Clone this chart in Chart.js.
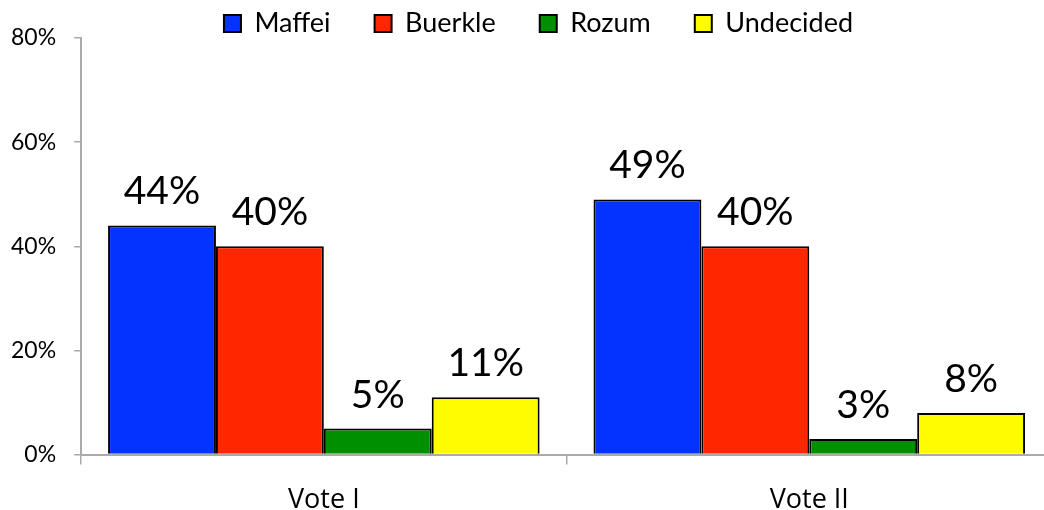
<!DOCTYPE html>
<html>
<head>
<meta charset="utf-8">
<script src="https://cdn.jsdelivr.net/npm/chart.js@4/dist/chart.umd.min.js"></script>
<style>
  html, body { margin: 0; padding: 0; background: #fff; overflow: hidden; }
  #wrap { width: 1056px; height: 510px; }
</style>
</head>
<body>
<div id="wrap"><canvas id="chart" width="1056" height="510"></canvas></div>
<script>
// 데이터
const categories = ['Vote I', 'Vote II'];
const maffei = [44, 49];
const buerkle = [40, 40];
const rozum = [5, 3];
const undecided = [11, 8];
const yTicks = [0, 20, 40, 60, 80];

const FONT = "Lato, 'Open Sans', sans-serif";

// 막대 위 값 라벨
const valueLabels = {
  id: 'valueLabels',
  afterDatasetsDraw(chart) {
    const ctx = chart.ctx;
    ctx.save();
    ctx.font = '39px ' + FONT;
    ctx.fillStyle = '#000';
    ctx.textAlign = 'center';
    ctx.textBaseline = 'alphabetic';
    chart.data.datasets.forEach((ds, i) => {
      chart.getDatasetMeta(i).data.forEach((bar, j) => {
        ctx.fillText(ds.data[j] + '%', bar.x, bar.y - 21);
      });
    });
    ctx.restore();
  }
};

// 범례를 약간 오른쪽으로 이동
const legendShift = {
  id: 'legendShift',
  afterLayout(chart) {
    const lg = chart.legend;
    if (lg) { lg.left += 16; lg.right += 16; }
  }
};

function ds(label, data, color) {
  return {
    label: label,
    data: data,
    backgroundColor: color,
    borderColor: '#000',
    borderWidth: 2,
    borderSkipped: 'bottom'
  };
}

new Chart(document.getElementById('chart'), {
  type: 'bar',
  data: {
    labels: categories,
    datasets: [
      ds('Maffei', maffei, '#0433FF'),
      ds('Buerkle', buerkle, '#FF2600'),
      ds('Rozum', rozum, '#008F00'),
      ds('Undecided', undecided, '#FFFB00')
    ]
  },
  options: {
    responsive: false,
    animation: false,
    layout: { padding: { left: -7, right: 4, top: -34, bottom: -27 } },
    datasets: { bar: { categoryPercentage: 0.889, barPercentage: 1.0 } },
    scales: {
      x: {
        offset: true,
        grid: { display: true, drawOnChartArea: false, offset: true, color: '#aaa', tickLength: 10, lineWidth: 1.5 },
        border: { color: '#aaa', width: 2 },
        ticks: { color: '#000', font: { family: "'Open Sans', sans-serif", size: 27 }, padding: 20 }
      },
      y: {
        min: 0,
        max: 80,
        afterBuildTicks(axis) { axis.ticks = yTicks.map(v => ({ value: v })); },
        grid: { display: true, drawOnChartArea: false, color: '#aaa', tickLength: 7, lineWidth: 1.5 },
        border: { color: '#aaa', width: 2 },
        ticks: { color: '#000', font: { family: FONT, size: 23 }, padding: 18, callback: v => v + '%' }
      }
    },
    plugins: {
      legend: {
        position: 'top',
        maxHeight: 72,
        labels: {
          color: '#000',
          font: { family: FONT, size: 27 },
          boxWidth: 17,
          boxHeight: 17,
          padding: 44
        }
      },
      tooltip: { enabled: false }
    }
  },
  plugins: [valueLabels, legendShift]
});
</script>
</body>
</html>
